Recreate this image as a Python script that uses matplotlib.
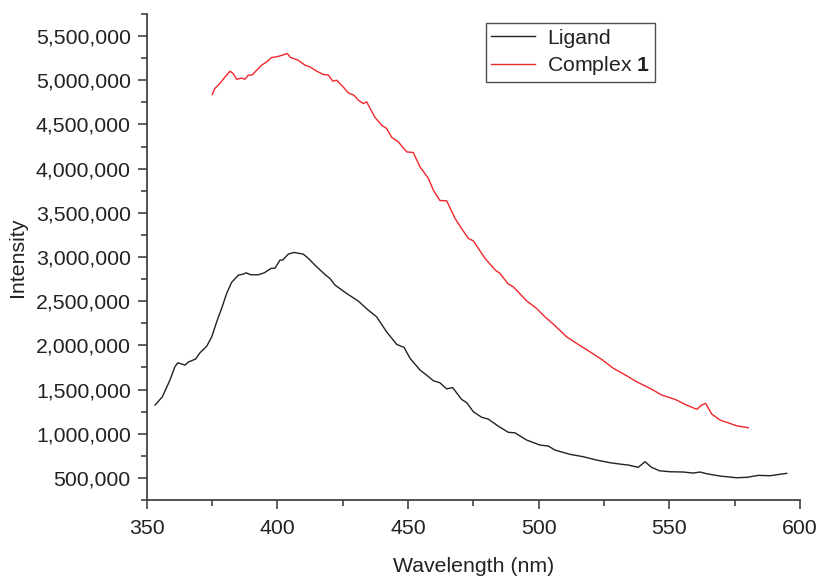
import numpy as np
import matplotlib
matplotlib.use("Agg")
import matplotlib.pyplot as plt
from matplotlib.ticker import MultipleLocator, FuncFormatter

plt.rcParams['font.family'] = ['Liberation Sans', 'DejaVu Sans']
plt.rcParams['mathtext.fontset'] = 'custom'
plt.rcParams['mathtext.rm'] = 'Liberation Sans'
plt.rcParams['mathtext.bf'] = 'Liberation Sans:bold'

# ligand emission
lig_wl = [353.2, 356.0, 358.9, 360.8, 361.9, 364.7, 365.9, 368.7, 370.4, 373.0,
          374.9, 376.8, 378.9, 380.6, 382.5, 385.1, 387.0, 388.0, 389.9, 392.7,
          395.0, 397.6, 399.1, 401.0, 402.0, 404.2, 406.4, 409.9, 411.9, 414.4,
          418.2, 420.1, 422.1, 426.5, 431.0, 434.8, 438.0, 441.8, 445.7, 448.5,
          450.8, 454.6, 457.1, 459.7, 462.2, 464.8, 467.1, 470.5, 472.5, 475.0,
          478.2, 480.7, 484.5, 488.4, 490.9, 495.4, 500.5, 503.7, 506.2, 512.0,
          517.1, 522.2, 527.3, 531.1, 534.3, 538.1, 540.7, 543.2, 546.2, 550.3,
          555.3, 559.2, 561.7, 564.3, 569.4, 575.8, 579.7, 584.1, 588.5, 594.9]
lig_int = [1324600, 1418500, 1607000, 1758000, 1803000, 1777000, 1811000, 1845000, 1916000, 1992000,
           2097000, 2267000, 2437000, 2588000, 2713000, 2795000, 2807000, 2821000, 2799000, 2799000,
           2821000, 2871000, 2874000, 2965000, 2965000, 3033000, 3052000, 3033000, 2984000, 2908000,
           2803000, 2758000, 2682000, 2588000, 2501000, 2399000, 2323000, 2154000, 2011000, 1977000,
           1853000, 1721000, 1664000, 1600000, 1577000, 1508000, 1522000, 1389000, 1351000, 1249000,
           1186000, 1166000, 1087000, 1016000, 1011000, 928700, 872000, 861000, 815600, 767000,
           740000, 702000, 672000, 657000, 646000, 620000, 683000, 620000, 581000, 570000,
           567000, 555000, 567000, 547500, 521500, 502000, 507000, 529000, 525000, 552000]

# complex 1 emission
cpx_wl = [375.1, 376.1, 378.0, 380.0, 381.9, 383.1, 384.4, 386.4, 387.6, 388.9,
          390.4, 392.1, 394.0, 395.9, 397.8, 399.5, 401.0, 403.8, 405.1, 408.0,
          410.6, 412.5, 415.1, 417.6, 419.5, 421.2, 422.7, 425.2, 427.2, 429.3,
          431.0, 432.9, 434.2, 435.5, 437.4, 439.9, 441.8, 443.8, 446.3, 449.5,
          452.0, 454.6, 457.8, 459.7, 462.2, 464.8, 468.0, 470.5, 473.1, 475.0,
          479.5, 483.4, 485.2, 488.4, 490.3, 495.4, 499.2, 502.4, 505.6, 510.7,
          514.5, 519.6, 524.1, 528.6, 533.7, 537.5, 542.6, 547.1, 552.2, 556.6,
          560.5, 562.4, 563.9, 566.2, 569.4, 572.5, 575.8, 580.2]
cpx_int = [4839000, 4907000, 4964000, 5038000, 5103000, 5077000, 5012000, 5024000, 5012000, 5058000,
           5061000, 5114000, 5171000, 5208000, 5258000, 5265000, 5276000, 5303000, 5258000, 5227000,
           5171000, 5151000, 5103000, 5065000, 5061000, 4990000, 5001000, 4925000, 4857000, 4831000,
           4775000, 4737000, 4756000, 4681000, 4579000, 4492000, 4455000, 4353000, 4303000, 4190000,
           4183000, 4020000, 3890000, 3757000, 3640000, 3636000, 3437000, 3323000, 3210000, 3183000,
           2984000, 2852000, 2814000, 2693000, 2663000, 2504000, 2418000, 2323000, 2241000, 2097000,
           2023000, 1928000, 1842000, 1740000, 1656000, 1588000, 1514000, 1438000, 1389000, 1325000,
           1276000, 1325000, 1344000, 1223000, 1155000, 1124000, 1090000, 1068000]

fig = plt.figure(figsize=(8.18, 5.77), dpi=100)
ax = fig.add_axes([0.1793, 0.1334, 0.7987, 0.8423])

ax.plot(lig_wl, lig_int, color='#222222', lw=1.0, label='Ligand')
ax.plot(cpx_wl, cpx_int, color='#f2262c', lw=1.0, label='Complex $\\mathbf{1}$')

ax.set_xlim(350, 600)
ax.set_ylim(250000, 5750000)
ax.xaxis.set_major_locator(MultipleLocator(50))
ax.xaxis.set_minor_locator(MultipleLocator(25))
ax.yaxis.set_major_locator(MultipleLocator(500000))
ax.yaxis.set_minor_locator(MultipleLocator(250000))
ax.yaxis.set_major_formatter(FuncFormatter(lambda v, p: f'{int(v):,}'))

for s in ['top', 'right']:
    ax.spines[s].set_visible(False)
for s in ['left', 'bottom']:
    ax.spines[s].set_color('#444444')
    ax.spines[s].set_linewidth(1.3)

ax.tick_params(which='major', length=6.5, width=1.2, color='#444444',
               labelsize=15.3, labelcolor='#222222', pad=5)
ax.tick_params(which='minor', length=4, width=1.2, color='#444444')
ax.tick_params(axis='x', which='major', pad=7)

ax.set_xlabel('Wavelength (nm)', fontsize=15.3, color='#222222', labelpad=14)
ax.set_ylabel('Intensity', fontsize=15.3, color='#222222', labelpad=6)

leg = ax.legend(loc='upper left', bbox_to_anchor=(0.519, 0.981), fontsize=15.3,
                frameon=True, fancybox=False, borderpad=0.25, handlelength=2.05,
                handletextpad=0.58, labelspacing=0.3, borderaxespad=0)
leg.get_frame().set_edgecolor('#222222')
leg.get_frame().set_linewidth(1.0)
for t in leg.get_texts():
    t.set_color('#222222')

fig.savefig('out.png', dpi=100)
